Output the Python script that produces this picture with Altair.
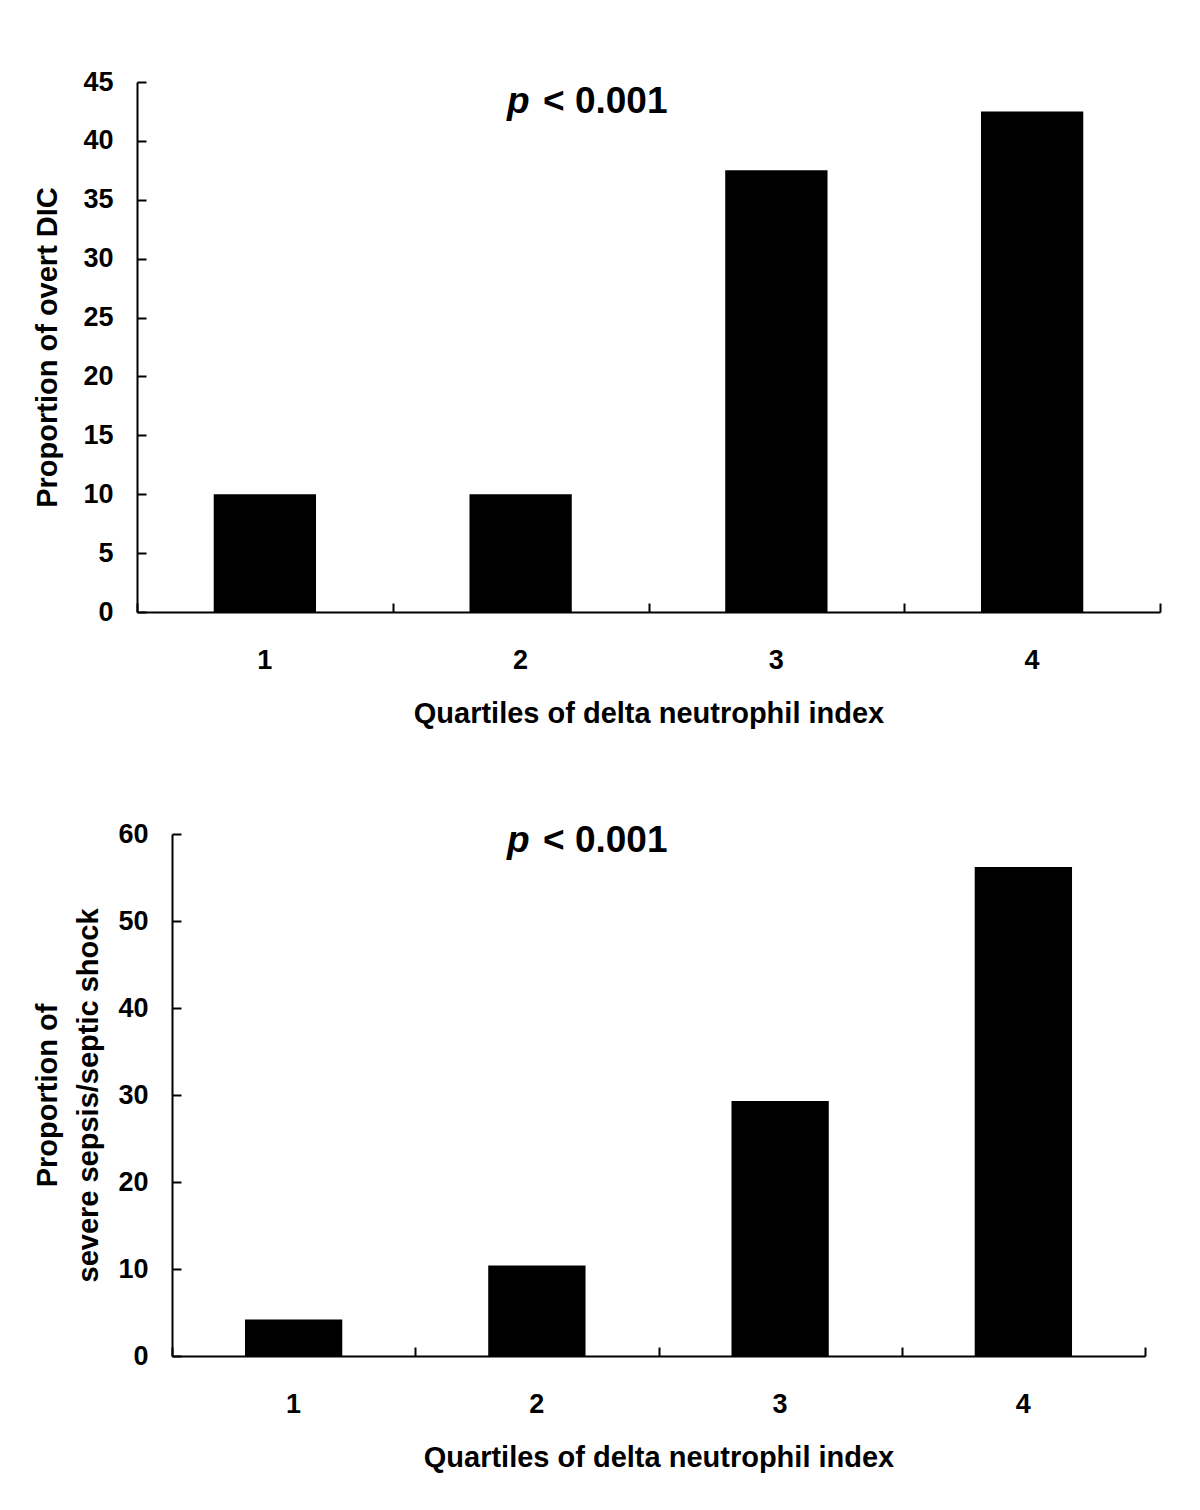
import altair as alt
import pandas as pd

quartiles = ["1", "2", "3", "4"]
dic_values = [10.0, 10.0, 37.5, 42.5]
sepsis_values = [4.2, 10.4, 29.3, 56.2]
dic_ticks = [0, 5, 10, 15, 20, 25, 30, 35, 40, 45]
sepsis_ticks = [0, 10, 20, 30, 40, 50, 60]
x_title = "Quartiles of delta neutrophil index"
dic_title = "Proportion of overt DIC"
sepsis_title = ["Proportion of", "severe sepsis/septic shock"]
p_italic = ["p"]
p_rest = ["< 0.001"]

FONT = "Liberation Sans"
LABEL_SIZE = 27
TITLE_SIZE = 29
P_SIZE = 37


def panel(values, ticks, ymax, ytitle, w, h, shift, p_y, title_pad):
    df = pd.DataFrame({"q": quartiles, "v": values})
    total_w = w + shift
    xscale = alt.Scale(paddingInner=0, paddingOuter=0, range=[shift, total_w])
    yscale = alt.Scale(domain=[0, ymax], nice=False, zero=True)
    bars = alt.Chart(df).mark_bar(color="black", width=alt.RelativeBandSize(0.4)).encode(
        x=alt.X("q:N", sort=quartiles, scale=xscale,
                axis=alt.Axis(title=x_title, labelAngle=0, ticks=False, domain=True,
                              domainColor="black", domainWidth=2,
                              labelFont=FONT, labelFontSize=LABEL_SIZE, labelFontWeight="bold",
                              labelColor="black", labelPadding=35,
                              titleFont=FONT, titleFontSize=TITLE_SIZE, titleFontWeight="bold",
                              titleColor="black", titlePadding=26)),
        y=alt.Y("v:Q", scale=yscale,
                axis=alt.Axis(title=ytitle, values=ticks, ticks=False, grid=False,
                              offset=-shift,
                              domain=True, domainColor="black", domainWidth=2,
                              labelFont=FONT, labelFontSize=LABEL_SIZE, labelFontWeight="bold",
                              labelColor="black", labelPadding=24,
                              titleFont=FONT, titleFontSize=TITLE_SIZE, titleFontWeight="bold",
                              titleColor="black", titlePadding=title_pad, titleLineHeight=41)),
    )
    tick_layer = alt.Chart(df).mark_bar(opacity=0, width=alt.RelativeBandSize(0.4)).encode(
        x=alt.X("q:N", sort=quartiles,
                axis=alt.Axis(orient="top", offset=-h, labels=False, domain=False,
                              tickBand="extent", tickSize=9, tickWidth=2,
                              tickColor="black", title=None)),
        y=alt.Y("v:Q",
                axis=alt.Axis(orient="right", offset=-w, labels=False, domain=False,
                              values=ticks, tickSize=9, tickWidth=2, tickColor="black",
                              grid=False, title=None)),
    )
    t1 = alt.Chart(pd.DataFrame({"t": p_italic})).mark_text(
        font=FONT, fontSize=P_SIZE, fontWeight="bold", fontStyle="italic",
        align="left", baseline="alphabetic", color="black"
    ).encode(text="t:N", x=alt.value(370), y=alt.value(p_y))
    t2 = alt.Chart(pd.DataFrame({"t": p_rest})).mark_text(
        font=FONT, fontSize=P_SIZE, fontWeight="bold",
        align="left", baseline="alphabetic", color="black"
    ).encode(text="t:N", x=alt.value(406), y=alt.value(p_y))
    return alt.layer(bars, tick_layer, t1, t2).resolve_axis(
        x="independent", y="independent"
    ).properties(width=total_w, height=h)


top = panel(dic_values, dic_ticks, 45, dic_title, 1023, 530, 0, 31, 20)
bottom = panel(sepsis_values, sepsis_ticks, 60, sepsis_title, 973, 522, 35, 18, 14)

chart = alt.concat(top, bottom, columns=1, spacing=92).properties(
    background="white",
    padding={"left": 25, "top": 60, "right": 5, "bottom": 5},
).configure_view(stroke=None)

chart.save("out.html", embed_options={"renderer": "svg", "actions": False})
